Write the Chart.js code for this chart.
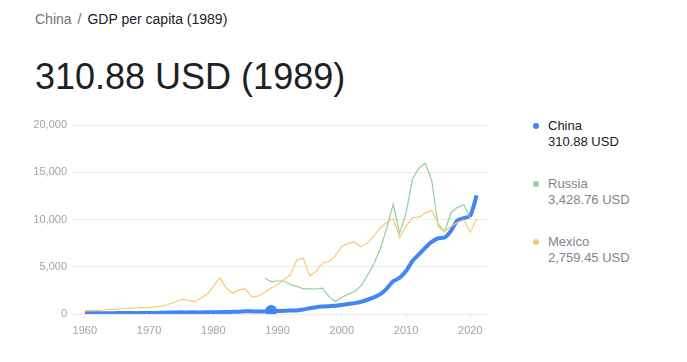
<!DOCTYPE html>
<html>
<head>
<meta charset="utf-8">
<script src="https://cdn.jsdelivr.net/npm/chart.js@4"></script>
<style>
body{margin:0;background:#fff;font-family:"Liberation Sans",Arial,sans-serif;width:687px;height:362px;overflow:hidden;position:relative;}
#crumb{position:absolute;left:35px;top:12px;font-size:14px;line-height:14px;color:#70757a;white-space:nowrap;}
#crumb .cur{color:#202124;}
#crumb .sep{margin:0 6px;}
#big{position:absolute;left:35px;top:59px;font-size:36px;line-height:36px;color:#202124;white-space:nowrap;}
#wrap{position:absolute;left:0;top:110px;width:500px;height:240px;}
#legend{position:absolute;left:536px;top:118px;}
.item{position:relative;height:58px;font-size:13px;line-height:16px;white-space:nowrap;}
.item .dot{position:absolute;left:-3px;top:5px;width:6px;height:6px;border-radius:50%;}
.item .txt{position:absolute;left:12px;top:0;}
</style>
</head>
<body>
<div id="crumb">China<span class="sep">/</span><span class="cur">GDP per capita (1989)</span></div>
<div id="big">310.88 USD (1989)</div>
<div id="wrap"><canvas id="gdpChart"></canvas></div>
<div id="legend"></div>
<script>
// =========================
// Data
// =========================

const years = [];
for (let y = 1960; y <= 2021; y++) years.push(y);

const china = [
89.5,75.8,70.9,74.3,85.5,98.5,104.3,96.6,91.5,100.1,
113.2,118.7,131.9,157.1,160.1,178.3,165.4,185.4,156.4,184.0,
194.8,197.1,203.3,225.4,250.7,294.5,281.9,251.8,283.5,310.88,
317.9,333.1,366.5,377.4,473.5,609.7,709.4,781.7,828.6,873.3,
959.4,1053.1,1148.5,1288.6,1508.7,1753.4,2099.2,2694.0,3468.3,3832.2,
4550.5,5614.4,6300.6,7020.4,7636.1,8016.4,8094.4,8817.0,9905.3,10143.9,
10408.7,12556.3
];

const russia = [
null,null,null,null,null,null,null,null,null,null,
null,null,null,null,null,null,null,null,null,null,
null,null,null,null,null,null,null,null,3777,3428.76,
3493,3490,3099,2929,2663,2666,2644,2738,1835,1331,
1772,2101,2378,2975,4102,5323,6920,9101,11635,8563,
10675,14311,15421,15975,14096,9313,8705,10720,11287,11536,
10194,null
];

const mexico = [
358,375,392,425,490,516,558,592,636,684,
699,748,839,1001,1269,1510,1473,1313,1643,2080,
2900,3850,2750,2200,2550,2650,1800,1900,2300,2759.45,
3100,3650,4150,5750,5900,4050,4500,5400,5550,6150,
7150,7500,7600,7100,7500,8300,9100,9700,10100,8100,
9270,10200,10250,10700,10920,9620,8740,9290,9690,9950,
8650,10050
];

const xTicks = [1960,1970,1980,1990,2000,2010,2020];
const yTicks = [0,5000,10000,15000,20000];

const seriesNames = ["China","Russia","Mexico"];
const legendValues = ["310.88 USD","3,428.76 USD","2,759.45 USD"];
const seriesColors = ["#4285f4","#8fd19e","#fcc875"];
const selectedYear = 1989;


// =========================
// Helpers
// =========================

function toPoints(values){
    return years.map((y,i)=>({x:y,y:values[i]}));
}

const selIndex = years.indexOf(selectedYear);


// =========================
// Legend
// =========================

const legend = document.getElementById("legend");
seriesNames.forEach((name,i)=>{
    const item = document.createElement("div");
    item.className = "item";
    const col = i==0 ? "#202124" : "#80868b";
    item.innerHTML =
        '<span class="dot" style="background:'+seriesColors[i]+'"></span>' +
        '<div class="txt" style="color:'+col+'">'+name+'<br>'+legendValues[i]+'</div>';
    legend.appendChild(item);
});


// =========================
// Chart
// =========================

const ctx = document.getElementById("gdpChart").getContext("2d");

const gdpChart = new Chart(ctx,{

    type:"line",

    data:{
        datasets:[
            {
                label:seriesNames[2],
                data:toPoints(mexico),
                borderColor:seriesColors[2],
                borderWidth:1.2,
                pointRadius:0,
                tension:0,
                spanGaps:false
            },
            {
                label:seriesNames[1],
                data:toPoints(russia),
                borderColor:seriesColors[1],
                borderWidth:1.2,
                pointRadius:0,
                tension:0,
                spanGaps:false
            },
            {
                label:seriesNames[0],
                data:toPoints(china),
                borderColor:seriesColors[0],
                backgroundColor:seriesColors[0],
                borderWidth:4,
                pointRadius:c=>c.dataIndex==selIndex ? 6 : 0,
                pointBorderWidth:0,
                pointHoverRadius:6,
                tension:0.2
            }
        ]
    },

    options:{
        responsive:true,
        maintainAspectRatio:false,
        animation:false,
        layout:{padding:{top:15,right:13,left:0,bottom:0}},
        plugins:{
            legend:{display:false},
            tooltip:{enabled:false}
        },
        scales:{
            x:{
                type:"linear",
                min:1958,
                max:2022.6,
                afterBuildTicks:s=>{ s.ticks = xTicks.map(v=>({value:v})); },
                afterFit:s=>{ s.height = 36; },
                border:{display:false},
                grid:{
                    drawOnChartArea:false,
                    drawTicks:true,
                    tickLength:4,
                    color:"#e8e8e8"
                },
                ticks:{
                    color:"#a8a2a2",
                    font:{family:"Liberation Sans",size:11},
                    padding:6,
                    maxRotation:0,
                    callback:v=>String(v)
                }
            },
            y:{
                min:0,
                max:20000,
                afterBuildTicks:s=>{ s.ticks = yTicks.map(v=>({value:v})); },
                afterFit:s=>{ s.width = 72; },
                border:{display:false},
                grid:{
                    color:"#ebebeb",
                    drawTicks:false
                },
                ticks:{
                    color:"#a8a2a2",
                    font:{family:"Liberation Sans",size:11},
                    padding:5,
                    callback:v=>v.toLocaleString("en-US")
                }
            }
        }
    }

});
</script>
</body>
</html>
